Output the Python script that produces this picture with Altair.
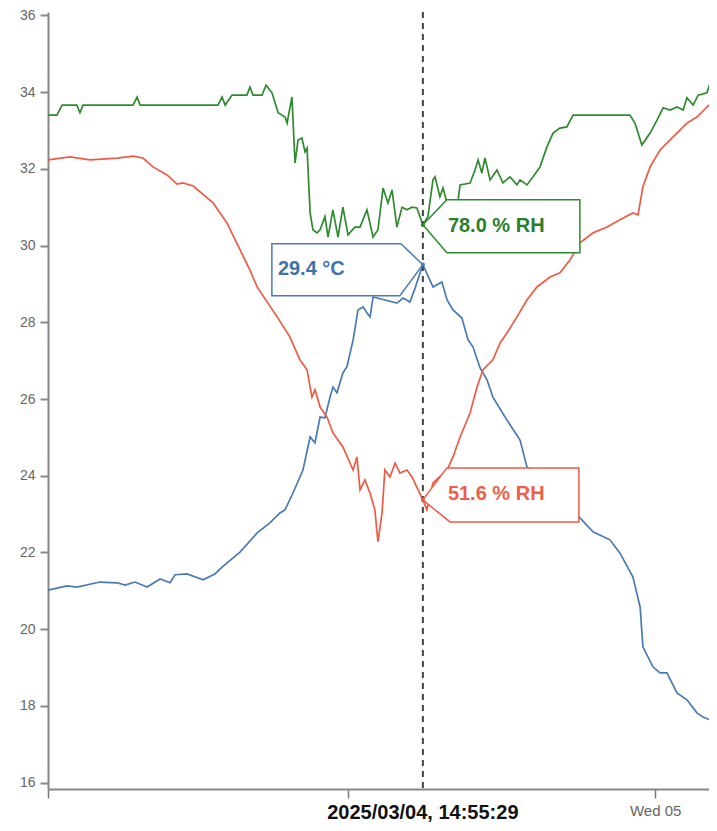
import altair as alt
import pandas as pd

# ---- data (hours after 2025-03-04 00:00, values on the chart's scale) ----
temp_hours = [0.28, 1.02, 1.41, 2.31, 2.98, 3.29, 3.68, 4.15, 4.66, 5.05, 5.24, 5.71, 6.34, 6.80, 7.08,
              7.78, 8.45, 8.95, 9.34, 9.54, 9.85, 10.24, 10.52, 10.71, 10.91, 11.10, 11.30, 11.41, 11.57,
              11.80, 11.96, 12.20, 12.39, 12.59, 12.74, 12.86, 12.98, 13.45, 13.91, 14.15, 14.42, 14.62,
              14.925, 15.32, 15.67, 15.87, 16.10, 16.45, 16.69, 16.88, 17.16, 17.43, 17.66, 18.21, 18.72,
              18.99, 20.09, 21.06, 21.57, 22.23, 22.62, 23.13, 23.41, 23.52, 23.91, 24.19, 24.46, 24.85,
              25.24, 25.63, 25.87, 26.14, 26.26, 26.41]
temp_vals = [21.02, 21.13, 21.10, 21.23, 21.21, 21.15, 21.23, 21.10, 21.31, 21.21, 21.42, 21.44, 21.29, 21.44, 21.62,
             22.01, 22.51, 22.77, 23.03, 23.11, 23.55, 24.15, 25.01, 24.86, 25.53, 25.51, 26.05, 26.31, 26.16,
             26.68, 26.84, 27.54, 28.32, 28.40, 28.24, 28.14, 28.66, 28.58, 28.50, 28.63, 28.53, 28.89,
             29.50, 28.92, 29.05, 28.58, 28.32, 28.11, 27.54, 27.36, 26.81, 26.50, 26.05, 25.45, 24.93,
             24.23, 23.55, 22.90, 22.54, 22.33, 21.99, 21.36, 20.58, 19.54, 19.02, 18.86, 18.86, 18.34,
             18.16, 17.82, 17.71, 17.64, 17.71, 17.82]

rh_red_hours = [0.28, 1.14, 1.92, 2.98, 3.60, 3.99, 4.38, 4.93, 5.32, 5.55, 5.95, 6.73, 7.27, 7.78, 8.17,
                8.45, 9.23, 9.73, 10.12, 10.40, 10.59, 10.71, 10.91, 11.18, 11.41, 11.80, 12.20, 12.35,
                12.47, 12.66, 12.86, 13.05, 13.17, 13.33, 13.44, 13.64, 13.84, 14.03, 14.30, 14.50, 14.925,
                15.08, 15.32, 15.87, 16.10, 16.38, 16.77, 17.04, 17.27, 17.66, 17.94, 18.21, 18.60, 18.99,
                19.38, 19.89, 20.28, 20.67, 21.06, 21.57, 22.12, 22.62, 23.13, 23.33, 23.52, 23.80, 24.19,
                24.70, 25.24, 25.63, 26.02, 26.41]
rh_red_vals = [32.23, 32.31, 32.23, 32.28, 32.33, 32.28, 32.05, 31.84, 31.60, 31.63, 31.55, 31.11, 30.59, 29.89, 29.36,
               28.92, 28.14, 27.62, 27.02, 26.76, 26.05, 26.24, 25.79, 25.53, 25.12, 24.75, 24.15, 24.49,
               23.63, 23.89, 23.55, 23.11, 22.28, 23.03, 24.15, 23.97, 24.33, 24.07, 24.15, 23.97, 23.37,
               23.11, 23.81, 24.15, 24.49, 25.01, 25.64, 26.31, 26.76, 27.02, 27.46, 27.72, 28.14, 28.58,
               28.92, 29.18, 29.29, 29.62, 30.07, 30.33, 30.48, 30.67, 30.85, 30.80, 31.53, 32.05, 32.49,
               32.83, 33.19, 33.35, 33.61, 33.85]

rh_green_hours = [0.28, 0.63, 0.83, 1.41, 1.53, 1.65, 3.60, 3.76, 3.88, 6.92, 7.08, 7.20, 7.47, 8.05, 8.17,
                  8.29, 8.64, 8.80, 9.03, 9.27, 9.54, 9.62, 9.81, 9.93, 10.05, 10.20, 10.32, 10.40, 10.52,
                  10.63, 10.79, 10.91, 11.10, 11.22, 11.41, 11.61, 11.80, 12.00, 12.27, 12.47, 12.74, 12.98,
                  13.17, 13.37, 13.56, 13.72, 13.91, 14.11, 14.30, 14.50, 14.69, 14.925, 15.12, 15.32, 15.40,
                  15.59, 15.71, 15.87, 16.30, 16.38, 16.77, 16.96, 17.08, 17.23, 17.35, 17.55, 17.82, 18.05,
                  18.33, 18.60, 18.72, 18.99, 19.23, 19.50, 19.77, 20.01, 20.28, 20.55, 20.79, 23.01, 23.21,
                  23.48, 23.80, 24.07, 24.31, 24.58, 24.85, 25.09, 25.24, 25.48, 25.68, 26.02, 26.15, 26.41]
rh_green_vals = [33.40, 33.40, 33.66, 33.66, 33.46, 33.66, 33.66, 33.87, 33.66, 33.66, 33.87, 33.66, 33.92, 33.92, 34.13,
                 33.92, 33.92, 34.18, 33.98, 33.46, 33.35, 33.19, 33.87, 32.15, 32.75, 32.80, 32.44, 32.54, 30.85,
                 30.41, 30.33, 30.41, 30.75, 30.22, 30.93, 30.22, 31.00, 30.28, 30.48, 30.48, 30.93, 30.22,
                 30.41, 31.50, 31.11, 31.45, 30.48, 31.00, 30.93, 31.00, 30.98, 30.54, 30.75, 31.71, 31.79,
                 31.27, 31.50, 31.11, 31.19, 31.58, 31.63, 31.97, 32.23, 31.89, 32.28, 31.71, 31.97, 31.63,
                 31.79, 31.58, 31.71, 31.58, 31.79, 32.05, 32.57, 32.93, 33.06, 33.09, 33.40, 33.40, 33.19,
                 32.62, 32.93, 33.27, 33.59, 33.53, 33.61, 33.53, 33.85, 33.66, 33.92, 33.98, 34.24, 34.45]

series_names = ["temp", "rh_green", "rh_red"]
series_colors = ["#4a7ab3", "#2f8a2f", "#f05a45"]
text_colors = ["#3f72ad", "#2b7f2b", "#ee5f4b"]

hover_time = "2025-03-04T14:55:29"
hover_label = "2025/03/04, 14:55:29"
hover_vals = [29.50, 30.54, 23.37]
hover_texts = ["29.4 \u00b0C", "78.0 % RH", "51.6 % RH"]

y_ticks = [16, 18, 20, 22, 24, 26, 28, 30, 32, 34, 36]

# ---- build tables ----
base = pd.Timestamp("2025-03-04")
frames = []
for name, hrs, vals in [("temp", temp_hours, temp_vals),
                        ("rh_green", rh_green_hours, rh_green_vals),
                        ("rh_red", rh_red_hours, rh_red_vals)]:
    frames.append(pd.DataFrame({
        "time": base + pd.to_timedelta(hrs, unit="h"),
        "value": vals,
        "series": name,
    }))
lines_df = pd.concat(frames, ignore_index=True)

hover_df = pd.DataFrame({
    "time": [pd.Timestamp(hover_time)] * 3,
    "value": hover_vals,
    "series": series_names,
    "label": hover_texts,
})

W, H = 661, 777
t_start = alt.DateTime(year=2025, month=3, date=4, hours=0, minutes=16, seconds=52)
t_end = alt.DateTime(year=2025, month=3, date=5, hours=2, minutes=6, seconds=5)
x_scale = alt.Scale(domain=[t_start, t_end])
y_scale = alt.Scale(domain=[15.836, 36.086], nice=False, zero=False)
color_scale = alt.Scale(domain=series_names, range=series_colors)

x_axis = alt.Axis(
    values=[t_start,
            alt.DateTime(year=2025, month=3, date=4, hours=12),
            alt.DateTime(year=2025, month=3, date=5, hours=0)],
    labelExpr="hours(datum.value) == 0 && minutes(datum.value) == 0 ? 'Wed 05' : ''",
    title=None, grid=False, tickSize=9, tickWidth=1.5, tickColor="#777",
    domainColor="#888", domainWidth=2, labelColor="#666", labelFontSize=15,
    labelFont="Liberation Sans", labelPadding=5,
)
y_axis = alt.Axis(
    values=y_ticks, title=None, grid=False, tickSize=8, tickWidth=2, tickColor="#888",
    domainColor="#888", domainWidth=2, labelColor="#666", labelFontSize=14,
    labelFont="Liberation Sans", labelPadding=5,
)

X = alt.X("time:T", scale=x_scale, axis=x_axis)
Y = alt.Y("value:Q", scale=y_scale, axis=y_axis)

lines = alt.Chart(lines_df).mark_line(strokeWidth=1.7, clip=True).encode(
    x=X, y=Y,
    color=alt.Color("series:N", scale=color_scale, legend=None),
    detail="series:N",
)

rule_df = pd.DataFrame({"time": [pd.Timestamp(hover_time)]})
rule = alt.Chart(rule_df).mark_rule(color="#444", strokeWidth=2, strokeDash=[6, 5]).encode(
    x=alt.X("time:T", scale=x_scale, axis=x_axis),
)

callout_paths = [
    "M0,0 L-22,-21 L-151,-21 L-151,31 L-23,31 Z",
    "M0,0 L24,-25 L157,-25 L157,28 L24,28 Z",
    "M0,0 L24,-32 L156,-32 L156,22 L27,22 Z",
]
text_offsets = [(-145, 4), (25, 1), (25, -6)]

layers = [lines, rule]
for i, name in enumerate(series_names):
    sub = hover_df[hover_df["series"] == name]
    box = alt.Chart(sub).mark_point(
        shape=callout_paths[i], size=4, filled=True, fill="white", fillOpacity=1,
        stroke=series_colors[i], strokeWidth=1.5, opacity=1,
    ).encode(x=X, y=Y)
    dot = alt.Chart(sub).mark_point(
        filled=True, size=18, color=series_colors[i], opacity=1, strokeWidth=0,
    ).encode(x=X, y=Y)
    txt = alt.Chart(sub).mark_text(
        align="left", baseline="middle", dx=text_offsets[i][0], dy=text_offsets[i][1],
        fontSize=20, fontWeight="bold", font="Liberation Sans", color=text_colors[i],
    ).encode(x=X, y=Y, text="label:N")
    layers += [box, dot, txt]

bottom_df = pd.DataFrame({"time": [pd.Timestamp(hover_time)], "label": [hover_label]})
bottom = alt.Chart(bottom_df).mark_text(
    align="center", baseline="alphabetic", fontSize=20, fontWeight="bold",
    font="Liberation Sans", color="#111",
).encode(x=X, y=alt.value(H + 30), text="label:N")
layers.append(bottom)

chart = alt.layer(*layers).properties(
    width=W, height=H,
    autosize=alt.AutoSizeParams(type="none"),
    padding={"left": 40, "top": 4, "right": 0, "bottom": 34},
    background="white",
).configure_view(stroke=None)

chart.save("out.html", embed_options={"renderer": "svg", "actions": False})
